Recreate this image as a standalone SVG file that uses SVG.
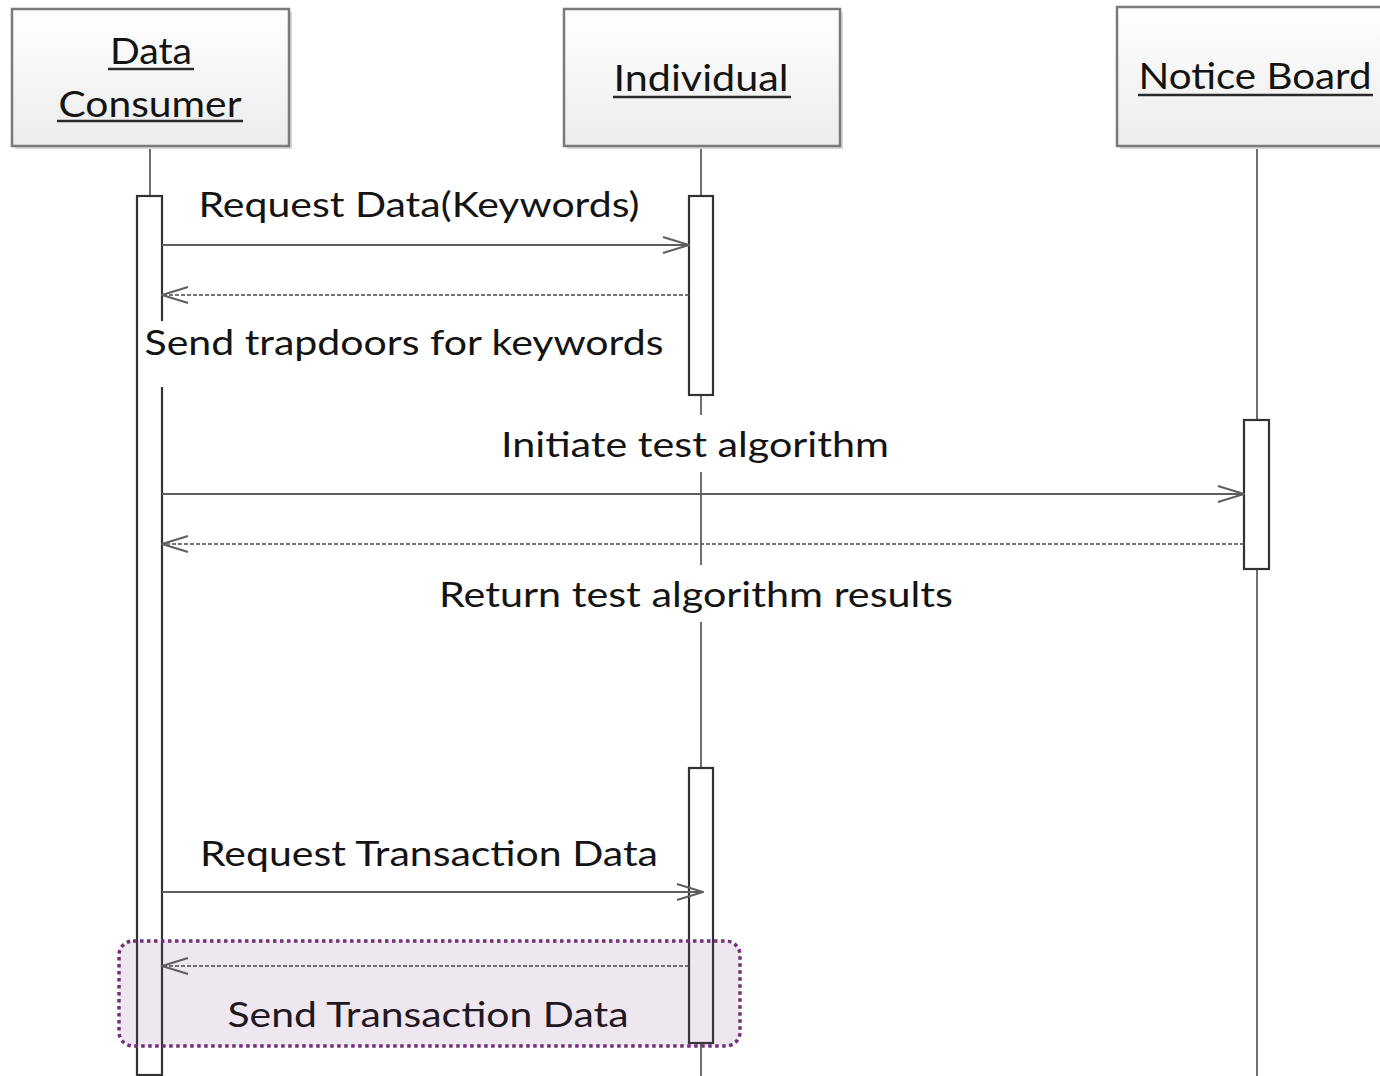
<svg xmlns="http://www.w3.org/2000/svg" width="1380" height="1076" viewBox="0 0 1380 1076">
  <style>
    .head { fill: url(#headFill); stroke: #7a7a7a; stroke-width: 2.5; }
    .shadow { fill: #d9d9d9; }
    .hname { font-family: Lato, "Open Sans", sans-serif; font-size: 37px; fill: #141414; text-anchor: middle; }
    .uline { stroke: #2a2a2a; stroke-width: 2.5; }
    .life { stroke: #707070; stroke-width: 2; fill: none; }
    .bar { fill: #ffffff; stroke: #333333; stroke-width: 2.2; }
    .call { stroke: #5e5e5e; stroke-width: 2.2; fill: none; marker-end: url(#openArrow); }
    .reply { stroke: #4a4a4a; stroke-width: 1.6; stroke-dasharray: 4 2; fill: none; marker-end: url(#openArrow); }
    .lbl { font-family: Lato, "Open Sans", sans-serif; font-size: 34px; fill: #141414; text-anchor: middle; }
    .lblbg { fill: #ffffff; }
    .hilite { fill: #7a3a80; fill-opacity: 0.12; stroke: #733077; stroke-width: 3.5; stroke-dasharray: 3.5 3.5; }
  </style>
  <defs>
    <linearGradient id="headFill" x1="0" y1="0" x2="0" y2="1">
      <stop offset="0" stop-color="#ffffff"/>
      <stop offset="1" stop-color="#ececec"/>
    </linearGradient>
    <marker id="openArrow" viewBox="0 0 28 20" refX="27" refY="10" markerWidth="28" markerHeight="20" markerUnits="userSpaceOnUse" orient="auto">
      <path d="M1 2 L27 10 L1 18" fill="none" stroke="#5e5e5e" stroke-width="2"/>
    </marker>
  </defs>

  <!-- lifeline: Data Consumer -->
  <g id="data-consumer">
    <line class="life" x1="150" y1="146" x2="150" y2="196"/>
    <rect class="shadow" x="15" y="12" width="277" height="137"/>
    <rect class="head" x="12" y="9" width="277" height="137"/>
    <text class="hname" x="151" y="64" textLength="82" lengthAdjust="spacingAndGlyphs">Data</text>
    <line class="uline" x1="108" y1="69" x2="194" y2="69"/>
    <text class="hname" x="150" y="117" textLength="183" lengthAdjust="spacingAndGlyphs">Consumer</text>
    <line class="uline" x1="57" y1="121" x2="243" y2="121"/>
    <rect class="bar" x="137" y="196" width="25" height="879"/>
  </g>

  <!-- lifeline: Individual -->
  <g id="individual">
    <line class="life" x1="701" y1="146" x2="701" y2="1076"/>
    <rect class="shadow" x="567" y="12" width="276" height="137"/>
    <rect class="head" x="564" y="9" width="276" height="137"/>
    <text class="hname" x="701" y="91" textLength="175" lengthAdjust="spacingAndGlyphs">Individual</text>
    <line class="uline" x1="613" y1="97" x2="791" y2="97"/>
    <rect class="bar" x="689" y="196" width="24" height="199"/>
    <rect class="bar" x="689" y="768" width="24" height="275"/>
  </g>

  <!-- lifeline: Notice Board -->
  <g id="notice-board">
    <line class="life" x1="1257" y1="146" x2="1257" y2="1076"/>
    <rect class="shadow" x="1120" y="10" width="280" height="139"/>
    <rect class="head" x="1117" y="7" width="280" height="139"/>
    <text class="hname" x="1255" y="89" textLength="233" lengthAdjust="spacingAndGlyphs">Notice Board</text>
    <line class="uline" x1="1138" y1="95" x2="1373" y2="95"/>
    <rect class="bar" x="1244" y="420" width="25" height="149"/>
  </g>

  <!-- messages -->
  <g id="connectors">
    <line class="call" x1="162" y1="245" x2="689" y2="245"/>
    <text class="lbl" x="419" y="217" textLength="441" lengthAdjust="spacingAndGlyphs">Request Data(Keywords)</text>

    <line class="reply" x1="689" y1="295" x2="162" y2="295"/>
    <rect class="lblbg" x="141" y="321" width="527" height="66"/>
    <text class="lbl" x="404" y="355" textLength="519" lengthAdjust="spacingAndGlyphs">Send trapdoors for keywords</text>

    <line class="call" x1="162" y1="494" x2="1244" y2="494"/>
    <rect class="lblbg" x="495" y="415" width="400" height="57"/>
    <text class="lbl" x="695" y="457" textLength="388" lengthAdjust="spacingAndGlyphs">Initiate test algorithm</text>

    <line class="reply" x1="1244" y1="544" x2="162" y2="544"/>
    <rect class="lblbg" x="433" y="565" width="526" height="57"/>
    <text class="lbl" x="696" y="607" textLength="514" lengthAdjust="spacingAndGlyphs">Return test algorithm results</text>

    <line class="call" x1="162" y1="892" x2="703" y2="892"/>
    <text class="lbl" x="429" y="866" textLength="458" lengthAdjust="spacingAndGlyphs">Request Transaction Data</text>

    <line class="reply" x1="689" y1="966" x2="162" y2="966"/>
    <text class="lbl" x="428" y="1027" textLength="401" lengthAdjust="spacingAndGlyphs">Send Transaction Data</text>
  </g>

  <!-- highlighted reply -->
  <g id="highlight">
    <rect class="hilite" x="119" y="941" width="621" height="105" rx="14" ry="14"/>
  </g>
</svg>
